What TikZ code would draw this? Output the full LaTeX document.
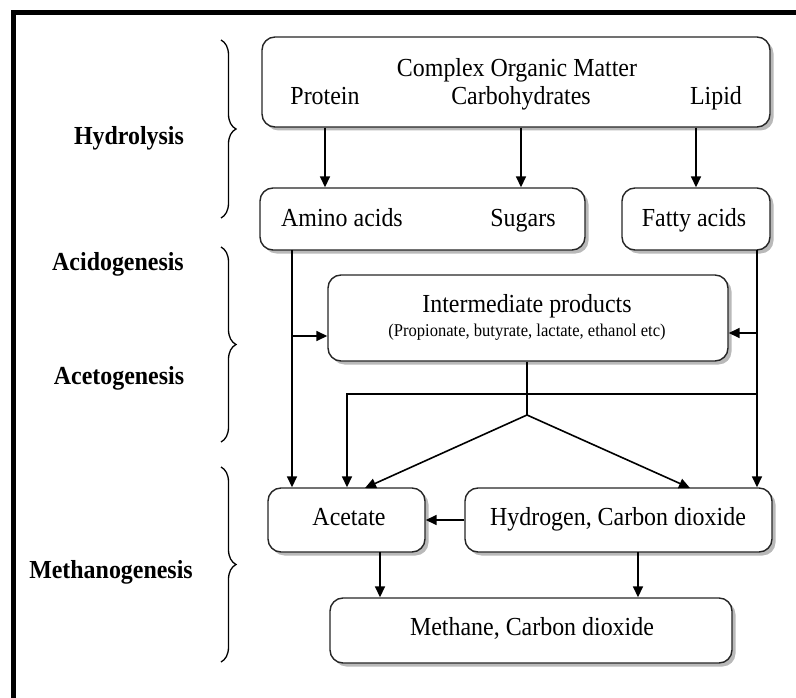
\documentclass[tikz,border=0pt]{standalone}
\usepackage{fontspec}
\setmainfont[FakeStretch=0.92]{Liberation Serif}
\usetikzlibrary{arrows.meta,shadows,decorations.pathreplacing}
\tikzset{%
    box/.style={draw=black!85,line width=1.4pt,rounded corners=13pt,fill=white,inner sep=0pt,
        drop shadow={shadow xshift=3.5pt,shadow yshift=-3.5pt,fill=black!55}}
}

\begin{document}
\begin{tikzpicture}[
        x=1pt,y=-1pt,
        txt/.style={anchor=base,font=\fontsize{26}{30}\selectfont},
        small/.style={anchor=base,font=\fontsize{18}{21}\selectfont},
        stage/.style={anchor=base,font=\fontsize{26}{30}\selectfont\bfseries},
        edge/.style={line width=1.6pt},
        arr/.style={edge,-{Triangle[length=11pt,width=10pt]}},
        brc/.style={line width=1.3pt,decorate,decoration={brace,amplitude=15pt}}
        ]
        \useasboundingbox (0,0) rectangle (796,698);
        \draw[line width=5pt] (13,698) -- (13,13) -- (796,13);

        % stages
        \node[stage] (hydro) at (129,145) {Hydrolysis};
        \node[stage] (acido) at (118,270) {Acidogenesis};
        \node[stage] (aceto) at (119,384) {Acetogenesis};
        \node[stage] (metha) at (111,578) {Methanogenesis};

        \draw[brc] (221,40) -- (221,218);
        \draw[brc] (221,247) -- (221,442);
        \draw[brc] (221,467) -- (221,662);

        % boxes
        \node[box,minimum width=508pt,minimum height=90pt] (com) at (516,82) {};
        \node[box,minimum width=325pt,minimum height=62pt] (amino) at (422.5,219) {};
        \node[box,minimum width=148pt,minimum height=62pt] (fatty) at (696,219) {};
        \node[box,minimum width=400pt,minimum height=86pt] (inter) at (528,318) {};
        \node[box,minimum width=157pt,minimum height=64pt] (acet) at (346.5,520) {};
        \node[box,minimum width=307pt,minimum height=64pt] (hyd) at (618.5,520) {};
        \node[box,minimum width=402pt,minimum height=65pt] (meth) at (531,630.5) {};

        % texts
        \node[txt] (organic) at (517,77) {Complex Organic Matter};
        \node[txt] (protein) at (325,105) {Protein};
        \node[txt] (carb) at (521,105) {Carbohydrates};
        \node[txt] (lipid) at (716,105) {Lipid};
        \node[txt] (aminot) at (342,226) {Amino acids};
        \node[txt] (sugars) at (523,226) {Sugars};
        \node[txt] (fattyt) at (694,226) {Fatty acids};
        \node[txt] (intert) at (527,312) {Intermediate products};
        \node[small] (intersub) at (527,336) {(Propionate, butyrate, lactate, ethanol etc)};
        \node[txt] (acett) at (349,525) {Acetate};
        \node[txt] (hydt) at (618,525) {Hydrogen, Carbon dioxide};
        \node[txt] (metht) at (532,635) {Methane, Carbon dioxide};

        % connectors
        \coordinate (lft) at (292,250);
        \coordinate (rgt) at (757,250);
        \coordinate (mid) at (347,394);
        \coordinate (apex) at (527,415);
        \coordinate (toacet) at (380,552);
        \coordinate (tohyd) at (638,552);

        \draw[arr] (protein |- com.south) -- (protein |- amino.north);
        \draw[arr] (carb |- com.south) -- (carb |- amino.north);
        \draw[arr] (fatty.north |- com.south) -- (fatty.north);

        \draw[arr] (lft) -- (lft |- acet.north);
        \draw[arr] (lft |- 0,336) -- (inter.west |- 0,336);
        \draw[arr] (rgt) -- (rgt |- hyd.north);
        \draw[arr] (rgt |- 0,333) -- (inter.east |- 0,333);

        \draw[arr] (rgt |- mid) -- (mid) -- (mid |- acet.north);
        \draw[edge] (inter.south -| apex) -- (apex);
        \draw[arr] (apex) -- (365,488);
        \draw[arr] (apex) -- (690,488);

        \draw[arr] (hyd.west) -- (acet.east);
        \draw[arr] (toacet) -- (toacet |- meth.north);
        \draw[arr] (tohyd) -- (tohyd |- meth.north);
    \end{tikzpicture}
\end{document}
